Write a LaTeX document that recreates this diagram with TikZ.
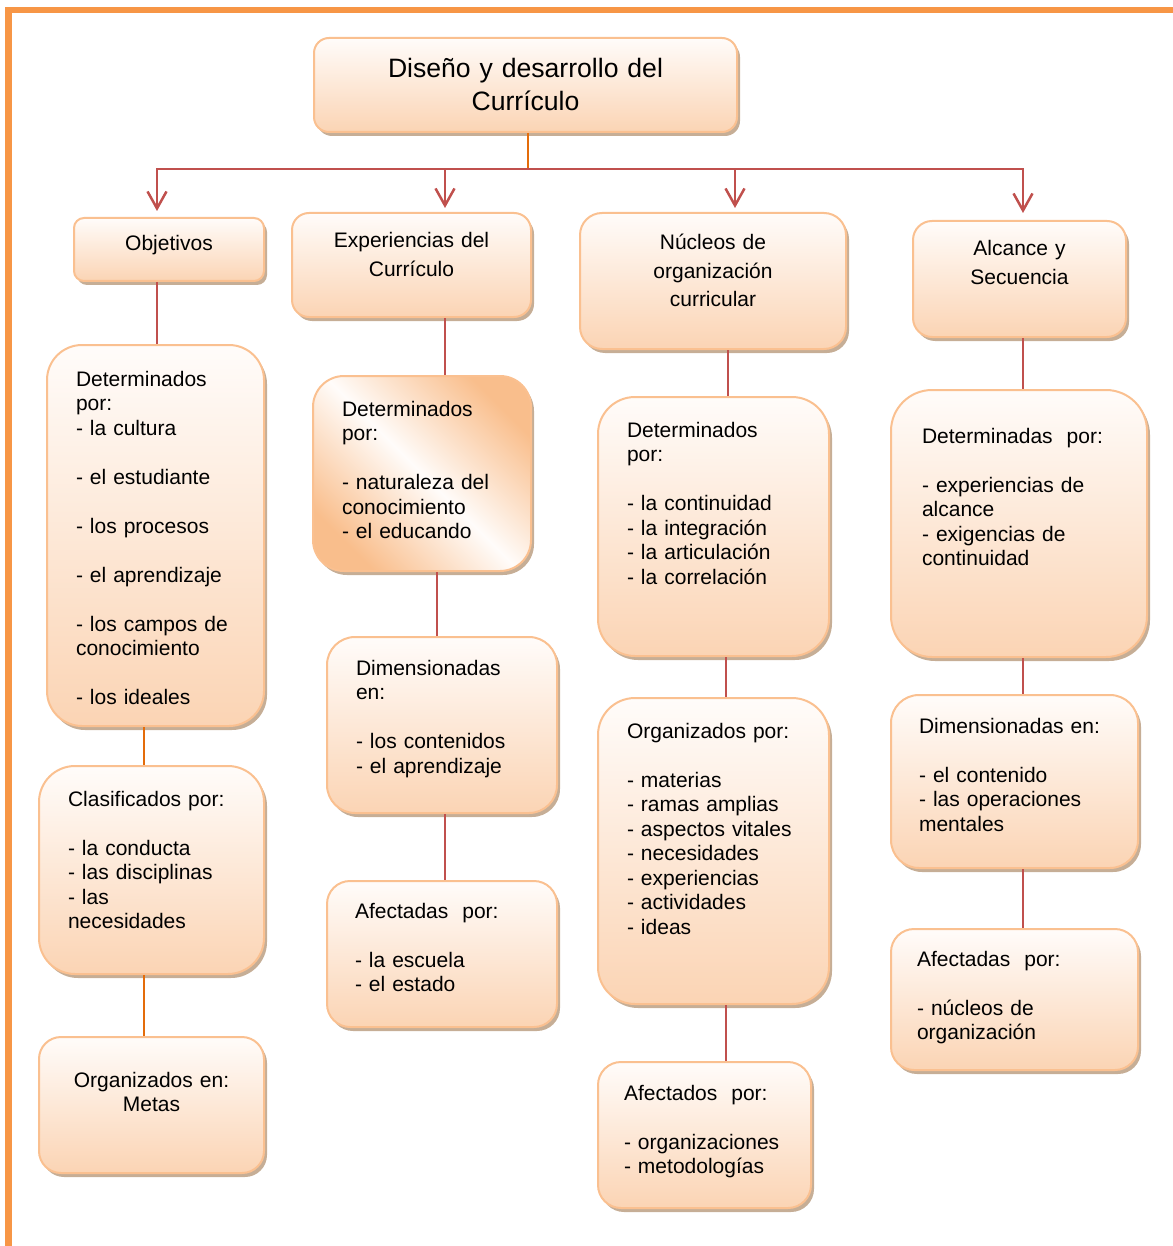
\documentclass[tikz,border=0pt]{standalone}
\usepackage{fontspec}
\setmainfont{Liberation Sans}
\usetikzlibrary{arrows.meta,shadows}

\definecolor{marco}{HTML}{F79646}
\definecolor{borde}{HTML}{FAC090}
\definecolor{claro}{HTML}{FFFCFA}
\definecolor{melocoton}{HTML}{FBD4B4}
\definecolor{oscuro}{HTML}{F9BE8C}
\definecolor{sombra}{HTML}{A07850}
\definecolor{rojo}{HTML}{C0504D}
\definecolor{naranja}{HTML}{E46C0A}

\begin{document}
\begin{tikzpicture}[x=1pt, y=-1pt, >={Straight Barb[length=17pt,width=19pt]},
    caja/.style={draw=borde, line width=2pt, rounded corners=#1,
        top color=claro, bottom color=melocoton,
        drop shadow={shadow xshift=3pt, shadow yshift=-4pt, fill=sombra, opacity=0.6},
        anchor=north west, inner ysep=0pt, font=\fontsize{21}{24.5}\selectfont},
    nivel/.style={caja=#1, align=center, inner xsep=10pt, font=\fontsize{21}{28.5}\selectfont},
    enlace/.style={line width=2.5pt, rojo},
    ]
    \useasboundingbox (0,0) rectangle (1172,1246);

    % Marco naranja
    \draw[marco, line width=6.5pt] (8.5,1250) -- (8.5,10) -- (1176,10);

    % Titulo
    \node[caja=15pt, text width=403pt, inner xsep=10pt, text height=40pt, text depth=54pt,
        align=center, font=\fontsize{26.6}{33}\selectfont] (titulo) at (313,37)
        {Diseño y desarrollo del\\Currículo};

    % Primer nivel
    \node[nivel=10pt, text width=170pt, text height=33pt, text depth=30pt] (objetivos) at (73,217) {Objetivos};
    \node[nivel=17pt, text width=219pt, text height=35pt, text depth=69pt] (experiencias) at (291,212) {Experiencias del\\Currículo};
    \node[nivel=22pt, text width=246pt, text height=37pt, text depth=99pt] (nucleos) at (579,212) {Núcleos de\\organización\\curricular};
    \node[nivel=19pt, text width=193pt, text height=35pt, text depth=81pt] (alcance) at (912,220) {Alcance y\\Secuencia};

    % Columna de los objetivos
    \node[caja=35pt, text width=159pt, inner xsep=29pt, text height=41pt, text depth=340pt, align=left] (detobj) at (46,344)
        {Determinados\\por:\\- la cultura\\[24.5pt]- el estudiante\\[24.5pt]- los procesos\\[24.5pt]- el aprendizaje\\[24.5pt]- los campos de\\conocimiento\\[24.5pt]- los ideales};
    \node[caja=36pt, text width=167pt, inner xsep=29pt, text height=40pt, text depth=168pt, align=left] (clasobj) at (38,765)
        {Clasificados por:\\[24.5pt]- la conducta\\- las disciplinas\\- las\\necesidades};
    \node[caja=22pt, text width=205pt, inner xsep=10pt, text height=50pt, text depth=86pt, align=center] (orgobj) at (38,1036)
        {Organizados en:\\Metas};

    % Columna de las experiencias
    \node[caja=31pt, left color=oscuro, right color=oscuro, middle color=claro, shading angle=135,
        text width=160pt, inner xsep=29pt, text height=40pt, text depth=155pt, align=left] (detexp) at (312,375)
        {Determinados\\por:\\[24.5pt]- naturaleza del\\conocimiento\\- el educando};
    \node[caja=28pt, text width=172pt, inner xsep=29pt, text height=38pt, text depth=138pt, align=left] (dimexp) at (326,636)
        {Dimensionadas\\en:\\[24.5pt]- los contenidos\\- el aprendizaje};
    \node[caja=23pt, text width=174pt, inner xsep=28pt, text height=37pt, text depth=109pt, align=left] (afeexp) at (326,880)
        {Afectadas\ \ por:\\[24.5pt]- la escuela\\- el estado};

    % Columna de los nucleos
    \node[caja=37pt, text width=173pt, inner xsep=29pt, text height=40pt, text depth=219pt, align=left] (detnuc) at (597,396)
        {Determinados\\por:\\[24.5pt]- la continuidad\\- la integración\\- la articulación\\- la correlación};
    \node[caja=37pt, text width=173pt, inner xsep=29pt, text height=40pt, text depth=266pt, align=left] (orgnuc) at (597,697)
        {Organizados por:\\[24.5pt]- materias\\- ramas amplias\\- aspectos vitales\\- necesidades\\- experiencias\\- actividades\\- ideas};
    \node[caja=23pt, text width=161pt, inner xsep=26pt, text height=38pt, text depth=108pt, align=left] (afenuc) at (597,1061)
        {Afectados\ \ por:\\[24.5pt]- organizaciones\\- metodologías};

    % Columna del alcance
    \node[caja=41pt, text width=194pt, inner xsep=31pt, text height=53pt, text depth=214pt, align=left] (detalc) at (890,389)
        {Determinadas\ \ por:\\[24.5pt]- experiencias de\\alcance\\- exigencias de\\continuidad};
    \node[caja=28pt, text width=191pt, inner xsep=28pt, text height=38pt, text depth=135pt, align=left] (dimalc) at (890,694)
        {Dimensionadas en:\\[24.5pt]- el contenido\\- las operaciones\\mentales};
    \node[caja=23pt, text width=195pt, inner xsep=26pt, text height=37pt, text depth=104pt, align=left] (afealc) at (890,928)
        {Afectadas\ \ por:\\[24.5pt]- núcleos de\\organización};

    % Ejes de los conectores
    \coordinate (split) at (528,169);
    \coordinate (c1) at (157,0);
    \coordinate (c1b) at (144,0);
    \coordinate (c2) at (445,0);
    \coordinate (c2b) at (437,0);
    \coordinate (c3) at (735,0);
    \coordinate (c3b) at (728,0);
    \coordinate (c3c) at (726,0);
    \coordinate (c4) at (1023,0);

    % Ramas del titulo
    \draw[enlace, naranja] (titulo.south -| split) -- (split);
    \draw[enlace, ->, shorten >=6pt] (split) -| (c1 |- objetivos.north);
    \draw[enlace, ->, shorten >=4pt] (split) -| (c2 |- experiencias.north);
    \draw[enlace, ->, shorten >=4pt] (split) -| (c3 |- nucleos.north);
    \draw[enlace, ->, shorten >=7pt] (split) -| (c4 |- alcance.north);

    % Conectores verticales
    \draw[enlace] (objetivos.south -| c1) -- (detobj.north -| c1);
    \draw[enlace, naranja] (detobj.south -| c1b) -- (clasobj.north -| c1b);
    \draw[enlace, naranja] (clasobj.south -| c1b) -- (orgobj.north -| c1b);

    \draw[enlace] (experiencias.south -| c2) -- (detexp.north -| c2);
    \draw[enlace] (detexp.south -| c2b) -- (dimexp.north -| c2b);
    \draw[enlace] (dimexp.south -| c2) -- (afeexp.north -| c2);

    \draw[enlace] (nucleos.south -| c3b) -- (detnuc.north -| c3b);
    \draw[enlace] (detnuc.south -| c3c) -- (orgnuc.north -| c3c);
    \draw[enlace] (orgnuc.south -| c3c) -- (afenuc.north -| c3c);

    \draw[enlace] (alcance.south -| c4) -- (detalc.north -| c4);
    \draw[enlace] (detalc.south -| c4) -- (dimalc.north -| c4);
    \draw[enlace] (dimalc.south -| c4) -- (afealc.north -| c4);
\end{tikzpicture}
\end{document}
